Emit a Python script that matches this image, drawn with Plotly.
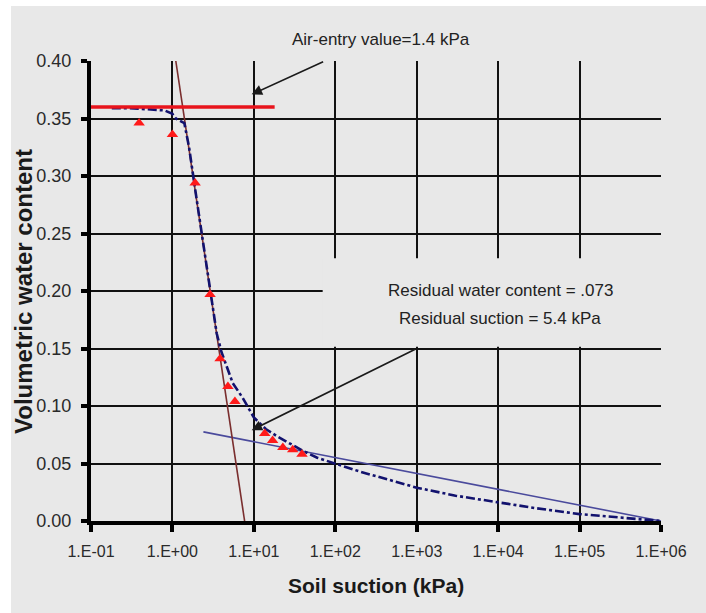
import numpy as np
import plotly.graph_objects as go

# ---------------- data ----------------
measured_suction = [0.39, 1.0, 1.9, 2.9, 3.85, 4.8, 5.85, 13.6, 17, 22.7, 30, 39]
measured_theta = [0.346, 0.336, 0.294, 0.197, 0.141, 0.117, 0.104, 0.076, 0.070, 0.064, 0.062, 0.058]

fit_suction = [0.18, 0.3, 0.5, 0.8, 1.0, 1.1, 1.4, 1.6, 2.0, 2.5, 3.0, 3.5, 4.0, 4.7, 5.5, 7.3,
               10, 14, 20, 30, 40, 60, 100, 200, 500, 1000, 3000, 1e4, 3e4, 1e5, 3e5, 1e6]
fit_theta = [0.359, 0.359, 0.358, 0.357, 0.354, 0.350, 0.346, 0.325, 0.278, 0.232, 0.195, 0.163,
             0.147, 0.133, 0.120, 0.107, 0.090, 0.080, 0.073, 0.066, 0.061, 0.055, 0.050, 0.043,
             0.035, 0.029, 0.022, 0.016, 0.011, 0.006, 0.003, 0.0]

tangent_suction = [1.1, 7.7]
tangent_theta = [0.40, 0.0]

airentry_suction = [0.1, 18]
airentry_theta = [0.36, 0.36]

residual_suction = [2.4, 1e6]
residual_theta = [0.0775, 0.0]

x_tickvals = [1e-1, 1e0, 1e1, 1e2, 1e3, 1e4, 1e5, 1e6]
x_ticktext = ["1.E-01", "1.E+00", "1.E+01", "1.E+02", "1.E+03", "1.E+04", "1.E+05", "1.E+06"]
y_tickvals = [0.0, 0.05, 0.10, 0.15, 0.20, 0.25, 0.30, 0.35, 0.40]
y_ticktext = ["0.00", "0.05", "0.10", "0.15", "0.20", "0.25", "0.30", "0.35", "0.40"]

airentry_label = "Air-entry value=1.4 kPa"
residual_label1 = "Residual water content = .073"
residual_label2 = "Residual suction = 5.4 kPa"
airentry_arrow_tip = (9.4, 0.371)
airentry_arrow_tail = (74, 0.40)
residual_arrow_tip = (9.4, 0.079)
residual_arrow_tail = (1000, 0.150)

BG = "#e8e8e8"
FONT = "Liberation Sans, Arial, sans-serif"

fig = go.Figure()

fig.add_trace(go.Scatter(x=residual_suction, y=residual_theta, mode="lines",
                         line=dict(color="#4a4a9c", width=1.6), showlegend=False))
fig.add_trace(go.Scatter(x=tangent_suction, y=tangent_theta, mode="lines",
                         line=dict(color="#7a2e2e", width=1.6), showlegend=False, cliponaxis=False))
fig.add_trace(go.Scatter(x=fit_suction, y=fit_theta, mode="lines",
                         line=dict(color="#12126e", width=2.6, dash="dashdot"), showlegend=False))
fig.add_trace(go.Scatter(x=measured_suction, y=measured_theta, mode="markers",
                         marker=dict(symbol="triangle-up", size=10, color="#ff1a1a"),
                         showlegend=False))
fig.add_trace(go.Scatter(x=airentry_suction, y=airentry_theta, mode="lines",
                         line=dict(color="#e8141c", width=3.5), showlegend=False, cliponaxis=False))

annotations = [
    dict(x=np.log10(airentry_arrow_tip[0]), y=airentry_arrow_tip[1],
         ax=np.log10(airentry_arrow_tail[0]), ay=airentry_arrow_tail[1],
         xref="x", yref="y", axref="x", ayref="y", text="", showarrow=True,
         arrowhead=2, arrowsize=1.3, arrowwidth=1.6, arrowcolor="#1a1a1a"),
    dict(x=np.log10(residual_arrow_tip[0]), y=residual_arrow_tip[1],
         ax=np.log10(residual_arrow_tail[0]), ay=residual_arrow_tail[1],
         xref="x", yref="y", axref="x", ayref="y", text="", showarrow=True,
         arrowhead=2, arrowsize=1.3, arrowwidth=1.6, arrowcolor="#1a1a1a"),
    dict(x=0.509, y=1.0457, xref="paper", yref="paper", text=airentry_label, showarrow=False,
         font=dict(family=FONT, size=17, color="#222"), xanchor="center", yanchor="middle"),
    dict(x=0.719, y=0.502, xref="paper", yref="paper", text=residual_label1, showarrow=False,
         font=dict(family=FONT, size=17, color="#222"), xanchor="center", yanchor="middle"),
    dict(x=0.7175, y=0.441, xref="paper", yref="paper", text=residual_label2, showarrow=False,
         font=dict(family=FONT, size=17, color="#222"), xanchor="center", yanchor="middle"),
    dict(x=0.5, y=-0.141, xref="paper", yref="paper", text="<b>Soil suction (kPa)</b>",
         showarrow=False, font=dict(family=FONT, size=21, color="#1a1a1a"),
         xanchor="center", yanchor="middle"),
    dict(x=-0.1175, y=0.498, xref="paper", yref="paper", text="<b>Volumetric water content</b>",
         showarrow=False, textangle=-90, font=dict(family=FONT, size=24, color="#1a1a1a"),
         xanchor="center", yanchor="middle"),
]

shapes = [
    # gray page area with white strip on top/left
    dict(type="rect", xref="paper", yref="paper", x0=-0.1404, x1=1.08, y0=-0.21, y1=1.1196,
         fillcolor=BG, line=dict(width=0), layer="below"),
    # box that hides grid behind residual labels
    dict(type="rect", xref="x", yref="y", x0=70, x1=3e6, y0=0.1515, y1=0.2285,
         fillcolor=BG, line=dict(width=0), layer="between"),
]

fig.update_layout(
    width=706, height=613,
    margin=dict(l=91, r=45, t=61, b=92),
    paper_bgcolor="white", plot_bgcolor=BG,
    annotations=annotations, shapes=shapes,
    font=dict(family=FONT, color="#222"),
)
fig.update_xaxes(type="log", range=[-1, 6], tickvals=x_tickvals, ticktext=x_ticktext,
                 showgrid=True, gridcolor="#111", gridwidth=2,
                 showline=True, linecolor="#000", linewidth=4,
                 ticks="outside", ticklen=7, tickwidth=4, tickcolor="#000",
                 tickfont=dict(family=FONT, size=16, color="#2a2a2a"),
                 ticklabelstandoff=6, zeroline=False, automargin=False)
fig.update_yaxes(range=[0, 0.4], tickvals=y_tickvals, ticktext=y_ticktext,
                 showgrid=True, gridcolor="#111", gridwidth=2,
                 showline=True, linecolor="#000", linewidth=4,
                 ticks="outside", ticklen=6, tickwidth=4, tickcolor="#000",
                 tickfont=dict(family=FONT, size=18, color="#2a2a2a"),
                 ticklabelstandoff=6, zeroline=False, automargin=False)

fig.write_html("out.html", config={"displayModeBar": False},
               post_script="document.body.style.margin='0';")
